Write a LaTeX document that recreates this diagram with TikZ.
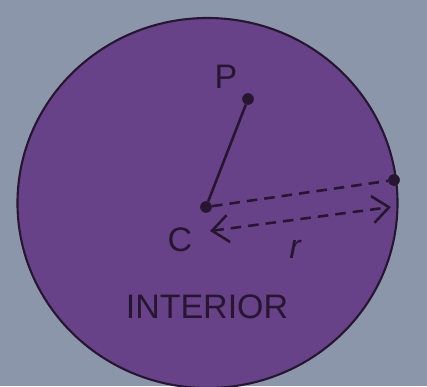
\documentclass[tikz,border=0pt]{standalone}
\usepackage{fontspec}
\setmainfont{Liberation Sans}
\usetikzlibrary{arrows.meta}

\definecolor{bgblue}{RGB}{140,150,170}
\definecolor{discpurple}{RGB}{104,66,136}
\definecolor{inkdark}{RGB}{38,22,48}

\begin{document}
\begin{tikzpicture}[
    x=0.03cm, y=-0.03cm,
    barb/.tip={Straight Barb[length=14pt, width=23pt, line width=2.2pt]},
    dot/.style={circle, fill=inkdark, inner sep=0pt, minimum size=10pt},
    lbl/.style={font=\fontsize{29}{30}\selectfont, text=inkdark, inner sep=0pt},
    seg/.style={line width=2.2pt, color=inkdark},
    dsh/.style={seg, dash pattern=on 9pt off 6pt},
  ]
  % Background and disc
  \fill[bgblue] (0,0) rectangle (427,386);
  \clip (0,0) rectangle (427,386);
  \filldraw[fill=discpurple, draw=inkdark, line width=1.8pt]
    (207.5,203) ellipse [x radius=5.7cm, y radius=5.55cm];

  % Points
  \node[dot] (ctr) at (206,207) {};
  \node[dot] (pt) at (248,99) {};
  \node[dot] (rim) at (394,180) {};
  \coordinate (rL) at (210,231);
  \coordinate (rR) at (391,207);

  % Labels
  \node[lbl] (pl) at (226,77) {P};
  \node[lbl] (cl) at (180,240) {C};
  \node[lbl] (rl) at (295,249) {\itshape r};
  \node[lbl] (int) at (207,307) {INTERIOR};

  \draw[seg] (ctr) -- (pt);
  \draw[dsh] (ctr) -- (rim);
  \draw[dsh, barb-barb] (rL) -- (rR);
\end{tikzpicture}
\end{document}
